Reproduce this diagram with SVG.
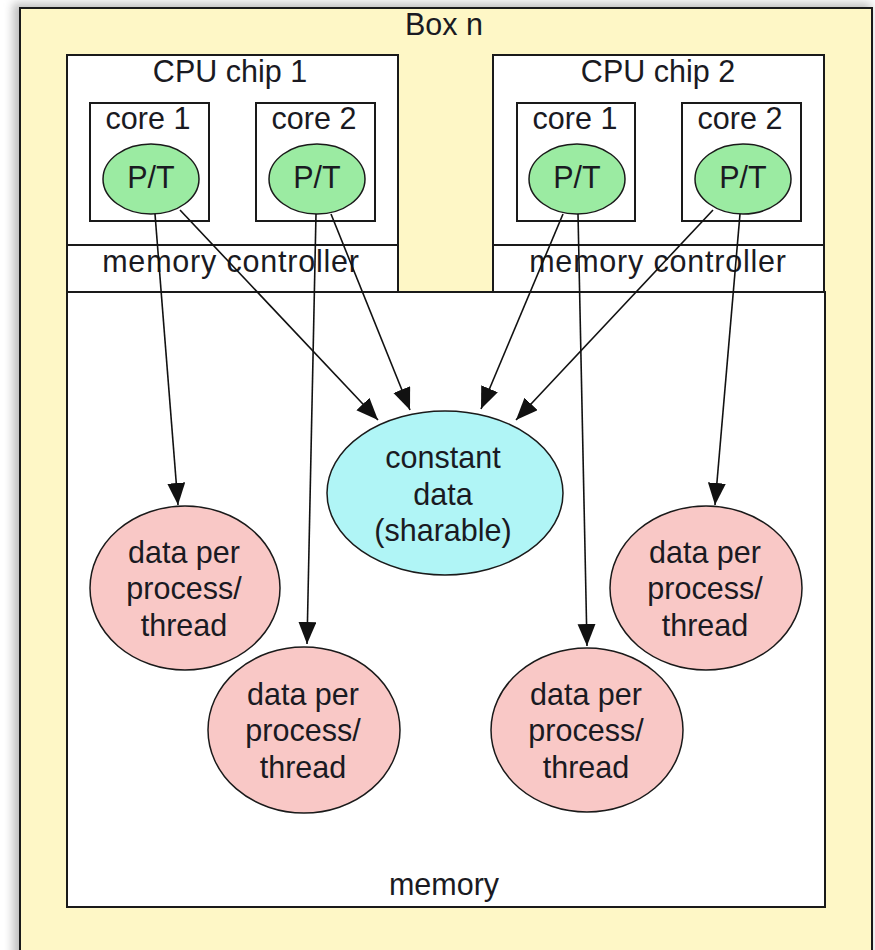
<svg xmlns="http://www.w3.org/2000/svg" width="875" height="950" viewBox="0 0 875 950">
<style>
.box{stroke:#1a1a1a;stroke-width:2;fill:#fff}
.t{font-family:"Liberation Sans",Arial,sans-serif;font-size:30.5px;fill:#1a1a22;text-anchor:middle}
.mc{letter-spacing:0.8px}
.pt{fill:#9BEBA2;stroke:#1a1a1a;stroke-width:1.5}
.pink{fill:#F9C8C6;stroke:#1a1a1a;stroke-width:1.5}
.cyan{fill:#B0F5F6;stroke:#1a1a1a;stroke-width:1.5}
.e{stroke:#111;stroke-width:1.6;fill:none;marker-end:url(#ah)}
</style>
<defs>
<marker id="ah" markerUnits="userSpaceOnUse" markerWidth="24" markerHeight="20" refX="22" refY="9" orient="auto">
<path d="M0,0 L22,9 L0,18 z" fill="#111"/>
</marker>
<filter id="sh" x="-5%" y="-5%" width="110%" height="110%">
<feGaussianBlur stdDeviation="5"/>
</filter>
</defs>
<rect width="875" height="950" fill="#fff"/>
<g id="box-n">
<rect x="13" y="3" width="858" height="960" fill="#888" opacity="0.55" filter="url(#sh)"/>
<rect x="20" y="8" width="852" height="960" fill="#FEF7C6" stroke="#1a1a1a" stroke-width="2"/>
<text class="t" x="444" y="35">Box n</text>
</g>
<g id="memory">
<rect class="box" x="67" y="292" width="758" height="615"/>
<text class="t" x="444" y="895">memory</text>
</g>
<g id="cpu-chip-1">
<rect class="box" x="67" y="55" width="331" height="237"/>
<line x1="67" y1="245" x2="398" y2="245" stroke="#1a1a1a" stroke-width="2"/>
<text class="t" x="230" y="82">CPU chip 1</text>
<text class="t mc" x="231" y="272">memory controller</text>
</g>
<g id="cpu-chip-2">
<rect class="box" x="493" y="55" width="331" height="237"/>
<line x1="493" y1="245" x2="824" y2="245" stroke="#1a1a1a" stroke-width="2"/>
<text class="t" x="658" y="82">CPU chip 2</text>
<text class="t mc" x="658" y="272">memory controller</text>
</g>
<g id="chip1-core1">
<rect class="box" x="90" y="103" width="119" height="118"/>
<text class="t" x="148" y="129">core 1</text>
<ellipse class="pt" cx="151" cy="179" rx="48" ry="35"/>
<text class="t" x="151" y="188">P/T</text>
</g>
<g id="chip1-core2">
<rect class="box" x="256" y="103" width="119" height="118"/>
<text class="t" x="314" y="129">core 2</text>
<ellipse class="pt" cx="317" cy="179" rx="48" ry="35"/>
<text class="t" x="317" y="188">P/T</text>
</g>
<g id="chip2-core1">
<rect class="box" x="517" y="103" width="118" height="118"/>
<text class="t" x="575" y="129">core 1</text>
<ellipse class="pt" cx="577" cy="179" rx="48" ry="35"/>
<text class="t" x="577" y="188">P/T</text>
</g>
<g id="chip2-core2">
<rect class="box" x="682" y="103" width="119" height="118"/>
<text class="t" x="740" y="129">core 2</text>
<ellipse class="pt" cx="743" cy="179" rx="48" ry="35"/>
<text class="t" x="743" y="188">P/T</text>
</g>
<g id="constant-data">
<ellipse class="cyan" cx="445" cy="493" rx="118" ry="82"/>
<text class="t" x="443" y="468">constant</text>
<text class="t" x="443" y="505">data</text>
<text class="t" x="443" y="541">(sharable)</text>
</g>
<g id="data-1">
<ellipse class="pink" cx="185" cy="588" rx="95" ry="82"/>
<text class="t" x="184" y="563">data per</text>
<text class="t" x="184" y="599">process/</text>
<text class="t" x="184" y="636">thread</text>
</g>
<g id="data-2">
<ellipse class="pink" cx="304" cy="730" rx="96" ry="83"/>
<text class="t" x="303" y="705">data per</text>
<text class="t" x="303" y="741">process/</text>
<text class="t" x="303" y="778">thread</text>
</g>
<g id="data-3">
<ellipse class="pink" cx="706" cy="588" rx="96" ry="82"/>
<text class="t" x="705" y="563">data per</text>
<text class="t" x="705" y="599">process/</text>
<text class="t" x="705" y="636">thread</text>
</g>
<g id="data-4">
<ellipse class="pink" cx="587" cy="730" rx="96" ry="82"/>
<text class="t" x="586" y="705">data per</text>
<text class="t" x="586" y="741">process/</text>
<text class="t" x="586" y="778">thread</text>
</g>
<g id="connectors">
<line class="e" x1="155" y1="214" x2="178" y2="505"/>
<line class="e" x1="180" y1="210" x2="378" y2="420"/>
<line class="e" x1="316" y1="214" x2="307" y2="644"/>
<line class="e" x1="331" y1="214" x2="410" y2="410"/>
<line class="e" x1="563" y1="214" x2="481" y2="409"/>
<line class="e" x1="578" y1="214" x2="587" y2="646"/>
<line class="e" x1="713" y1="210" x2="516" y2="420"/>
<line class="e" x1="740" y1="214" x2="715" y2="505"/>
</g>
</svg>
